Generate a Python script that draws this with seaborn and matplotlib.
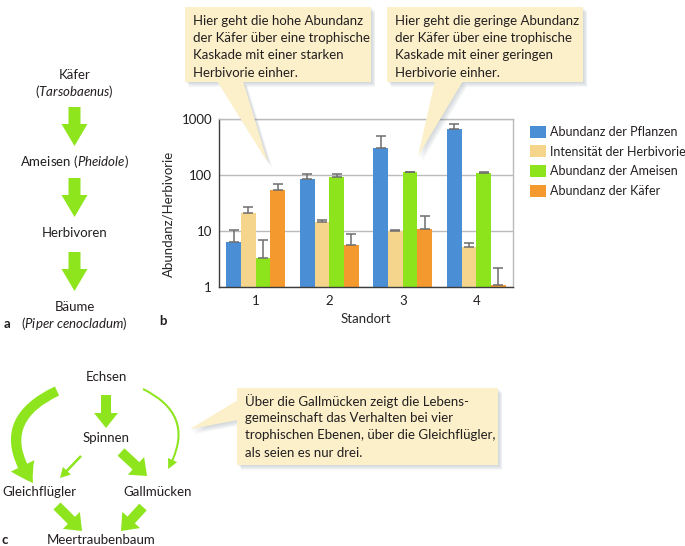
import matplotlib
matplotlib.use("Agg")

import matplotlib.pyplot as plt
import seaborn as sns
import pandas as pd
from matplotlib.patches import Polygon, FancyArrowPatch
from matplotlib.ticker import NullLocator, FixedLocator

# -------------------------------
# Data (panel b)
# -------------------------------
sites = ["1", "2", "3", "4"]
series = [
    "Abundanz der Pflanzen",
    "Intensität der Herbivorie",
    "Abundanz der Ameisen",
    "Abundanz der Käfer",
]
plants = [6.3, 85, 300, 650]
herbivory = [21, 14.7, 10.1, 5.2]
ants = [3.3, 93, 111, 107]
beetles = [55, 5.6, 10.9, 1.1]

plants_err = [10.4, 105, 490, 830]
herbivory_err = [27, 15.7, 10.5, 6.1]
ants_err = [7.0, 105, 112, 113]
beetles_err = [69, 8.7, 18.2, 2.2]

colors = ["#4a8fd6", "#f5d58c", "#8de41c", "#f4992d"]

means = [plants, herbivory, ants, beetles]
uppers = [plants_err, herbivory_err, ants_err, beetles_err]

rows = []
for name, vals in zip(series, means):
    for s, v in zip(sites, vals):
        rows.append({"Standort": s, "Serie": name, "Wert": v})
df = pd.DataFrame(rows)

# -------------------------------
# Figure setup
# -------------------------------
sns.set_style("white")
plt.rcParams["font.family"] = ["Lato", "DejaVu Sans"]
plt.rcParams["mathtext.fontset"] = "custom"
plt.rcParams["mathtext.rm"] = "Lato"
plt.rcParams["mathtext.it"] = "Lato:italic"
plt.rcParams["text.color"] = "#231f20"

FS = 9.5
W, H = 685, 546
fig = plt.figure(figsize=(W / 100, H / 100), dpi=100)

# bar axes placed in pixel box
left, right, top, bottom = 219, 513, 119, 287
ax = fig.add_axes([left / W, 1 - bottom / H, (right - left) / W, (bottom - top) / H])
ax.set_yscale("log")

sns.barplot(
    data=df, x="Standort", y="Wert", hue="Serie",
    hue_order=series, order=sites, palette=colors, saturation=1,
    errorbar=None, width=0.8, linewidth=0, ax=ax,
)

# upper error bars only
for cont, vals, ups in zip(ax.containers, means, uppers):
    xs = [p.get_x() + p.get_width() / 2 for p in cont.patches]
    lo = [0 for _ in vals]
    hi = [u - v for u, v in zip(ups, vals)]
    ax.errorbar(xs, vals, yerr=[lo, hi], fmt="none", ecolor="#6e6e6e",
                elinewidth=1.1, capsize=3.6, capthick=1.1, zorder=3)

ax.set_ylim(1, 1000)
ax.set_xlim(-0.5, 3.5)
ax.yaxis.set_major_locator(FixedLocator([1, 10, 100, 1000]))
ax.yaxis.set_minor_locator(NullLocator())
ax.set_yticklabels(["1", "10", "100", "1000"])
ax.tick_params(axis="both", length=0, labelsize=FS, colors="#231f20")
ax.tick_params(axis="y", pad=5)
ax.tick_params(axis="x", pad=6)
ax.grid(axis="y", color="#b9bcbe", linewidth=1)
ax.set_axisbelow(True)
for side in ["left", "bottom"]:
    ax.spines[side].set_color("#3c3c3c")
    ax.spines[side].set_linewidth(1.0)
for side in ["top", "right"]:
    ax.spines[side].set_color("#b9bcbe")
    ax.spines[side].set_linewidth(1.0)

ax.set_ylabel("Abundanz/Herbivorie", fontsize=FS)
ax.yaxis.set_label_coords(-0.15, 0.435)
ax.set_xlabel("Standort", fontsize=FS)
ax.xaxis.set_label_coords(0.5, -0.155)

sns.move_legend(
    ax, "upper left", bbox_to_anchor=(1.04, 0.99), frameon=False, title=None,
    fontsize=9, handlelength=1.3, handleheight=1.1, labelspacing=0.6,
    handletextpad=0.35, borderaxespad=0,
)

# -------------------------------
# Overlay for diagrams and callouts (pixel coordinates)
# -------------------------------
ov = fig.add_axes([0, 0, 1, 1], zorder=5)
ov.set_xlim(0, W)
ov.set_ylim(H, 0)
ov.axis("off")
ov.patch.set_alpha(0)

CREAM = "#fbf0c9"
GREEN = "#8ee51e"


def callout(box, tri, lines, tx, ty0):
    x0, y0, x1, y1 = box
    rect = [(x0, y0), (x1, y0), (x1, y1), (x0, y1)]
    for k in range(1, 6):
        for shape in (rect, tri):
            pts = [(x + k * 0.9, y + k * 1.0) for x, y in shape]
            ov.add_patch(Polygon(pts, closed=True, facecolor="#4f6470",
                                 edgecolor="none", alpha=0.05, zorder=1))
    ov.add_patch(Polygon(tri, closed=True, facecolor=CREAM, edgecolor="none", zorder=2))
    ov.add_patch(Polygon(rect, closed=True, facecolor=CREAM, edgecolor="none", zorder=2))
    for i, line in enumerate(lines):
        ov.text(tx, ty0 + i * 17.2, line, fontsize=FS, ha="left", va="center", zorder=3)


callout((185, 7, 371, 82), [(217, 81), (243, 81), (268, 163)],
        ["Hier geht die hohe Abundanz", "der Käfer über eine trophische",
         "Kaskade mit einer starken", "Herbivorie einher."], 193, 21)
callout((387, 7, 583, 82), [(435, 81), (463, 81), (418, 156)],
        ["Hier geht die geringe Abundanz", "der Käfer über eine trophische",
         "Kaskade mit einer geringen", "Herbivorie einher."], 395, 21)
callout((237, 388, 498, 465), [(238, 400), (238, 420), (190, 429)],
        ["Über die Gallmücken zeigt die Lebens-",
         "gemeinschaft das Verhalten bei vier",
         "trophischen Ebenen, über die Gleichflügler,",
         "als seien es nur drei."], 245, 401)


def arrow(p0, p1, tail, head_w, head_l, rad=0.0):
    k = 72 / 100  # pixel -> points
    style = "simple,head_length=%.2f,head_width=%.2f,tail_width=%.2f" % (
        head_l * k, head_w * k, tail * k)
    ov.add_patch(FancyArrowPatch(p0, p1, arrowstyle=style,
                                 connectionstyle="arc3,rad=%.2f" % rad,
                                 color=GREEN, shrinkA=0, shrinkB=0,
                                 linewidth=0, zorder=2))


# panel a
cx = 74.5
ov.text(cx, 75, "Käfer", fontsize=FS, ha="center", va="center")
ov.text(cx, 92, r"($\mathit{Tarsobaenus}$)", fontsize=FS, ha="center", va="center")
arrow((cx, 107), (cx, 146), 12, 26, 22)
ov.text(cx, 162, r"Ameisen ($\mathit{Pheidole}$)", fontsize=FS, ha="center", va="center")
arrow((cx, 178), (cx, 217), 12, 26, 22)
ov.text(cx, 233, "Herbivoren", fontsize=FS, ha="center", va="center")
arrow((cx, 252), (cx, 291), 12, 26, 22)
ov.text(cx, 307, "Bäume", fontsize=FS, ha="center", va="center")
ov.text(cx, 323, r"($\mathit{Piper\ cenocladum}$)", fontsize=FS, ha="center", va="center")

# panel c
ov.text(106, 377, "Echsen", fontsize=FS, ha="center", va="center")
ov.text(106, 438, "Spinnen", fontsize=FS, ha="center", va="center")
ov.text(39, 492, "Gleichflügler", fontsize=FS, ha="center", va="center")
ov.text(158, 492, "Gallmücken", fontsize=FS, ha="center", va="center")
ov.text(101, 540, "Meertraubenbaum", fontsize=FS, ha="center", va="center")

arrow((106, 395), (106, 428), 10, 24, 15)
arrow((57, 391), (33, 483), 10, 26, 20, rad=0.6)
arrow((143, 389), (168, 469), 2, 10, 10, rad=-0.53)
arrow((81, 456), (60, 478), 2.5, 11, 10)
arrow((121, 452), (147, 476), 10, 24, 15)
arrow((57, 506), (82, 531), 10, 24, 15)
arrow((143, 507), (121, 531), 10, 24, 15)

# panel labels
for lab, x, y in [("a", 7, 324), ("b", 163, 321), ("c", 5, 540)]:
    ov.text(x, y, lab, fontsize=FS, fontweight="bold", ha="center", va="center")

plt.savefig("out.png", dpi=100)
plt.close()
